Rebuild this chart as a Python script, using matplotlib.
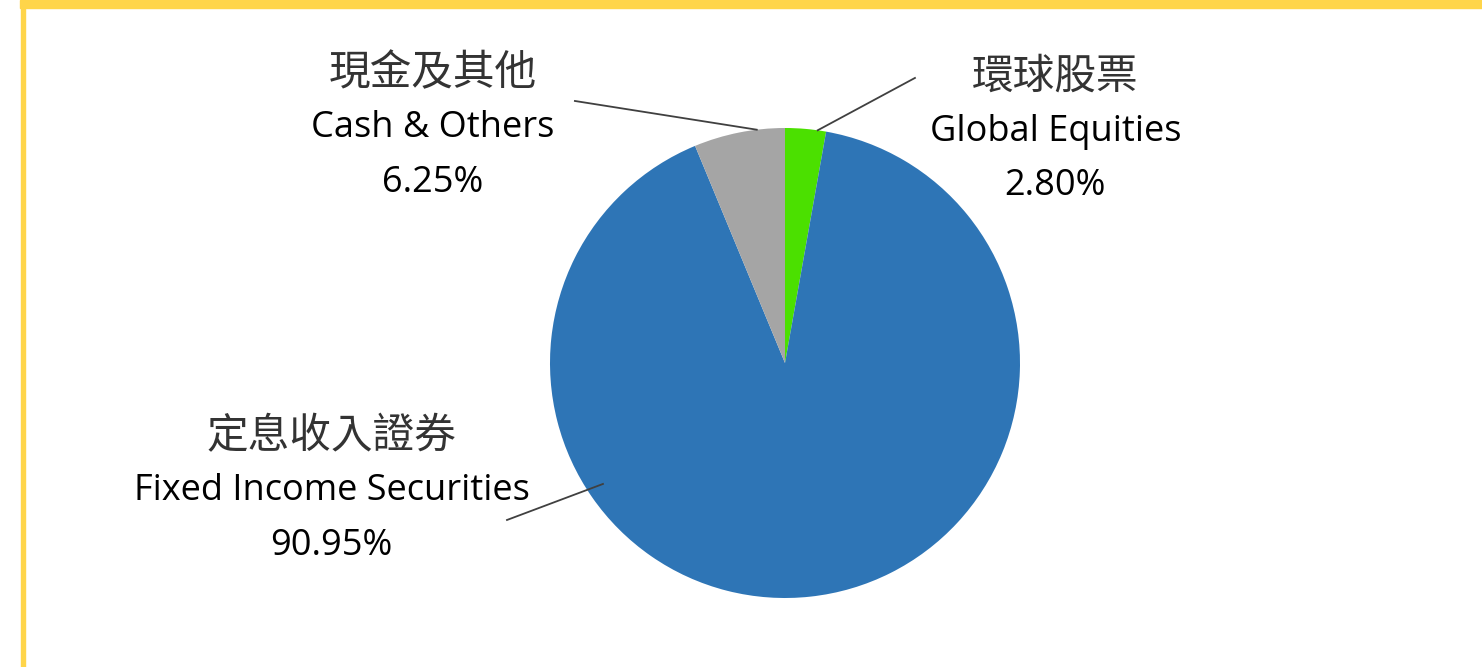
"""Fund asset allocation pie chart."""
import matplotlib
matplotlib.use("Agg")
import matplotlib.pyplot as plt
from matplotlib.patches import Rectangle
import numpy as np

# data
labels_zh = ["環球股票", "定息收入證券", "現金及其他"]
labels_en = ["Global Equities", "Fixed Income Securities", "Cash & Others"]
shares = [2.80, 90.95, 6.25]
colors = ["#4BE000", "#2E75B6", "#A5A5A5"]

# label block centres (pie radius units) and leader-line anchors
label_pos = [(1.15, 0.985), (-1.93, -0.545), (-1.50, 1.0)]
leader_angle = [82.0, 213.6, 96.9]
leader_radius = [1.0, 0.93, 1.0]
leader_end = [(0.553, 1.213), (-1.183, -0.668), (-0.894, 1.115)]

W, H = 1482, 667
fig = plt.figure(figsize=(W / 100, H / 100), dpi=100)

# yellow frame
yellow = "#FFD54A"
fig.patches.append(Rectangle((20 / W, 1 - 8 / H), 1, 8 / H, transform=fig.transFigure,
                             color=yellow, zorder=0))
fig.patches.append(Rectangle((20.5 / W, 0), 4.5 / W, 1, transform=fig.transFigure,
                             color=yellow, zorder=0))

cx, cy, r = 785, 363, 235
ax = fig.add_axes([(cx - r) / W, (H - cy - r) / H, 2 * r / W, 2 * r / H])
ax.pie(shares, colors=colors, startangle=90, counterclock=False, radius=1,
       wedgeprops=dict(linewidth=0))
ax.set_xlim(-1, 1)
ax.set_ylim(-1, 1)
ax.set_aspect("equal")
ax.axis("off")

zh_font = dict(family=["Noto Sans CJK TC", "DejaVu Sans"], fontsize=30, color="#333333")
en_font = dict(family=["Open Sans", "DejaVu Sans"], fontsize=26, color="black")
line_gap = 0.233

for zh, en, val, (lx, ly), ang, rad, (ex, ey) in zip(labels_zh, labels_en, shares,
                                                      label_pos, leader_angle,
                                                      leader_radius, leader_end):
    ax.text(lx, ly + line_gap, zh, ha="center", va="center", clip_on=False, **zh_font)
    ax.text(lx, ly, en, ha="center", va="center", clip_on=False, **en_font)
    ax.text(lx, ly - line_gap, f"{val:.2f}%", ha="center", va="center",
            clip_on=False, **en_font)
    a = np.deg2rad(ang)
    ax.plot([rad * np.cos(a), ex], [rad * np.sin(a), ey], color="#404040", lw=1.3,
            clip_on=False, zorder=3)

fig.savefig("out.png", dpi=100)
